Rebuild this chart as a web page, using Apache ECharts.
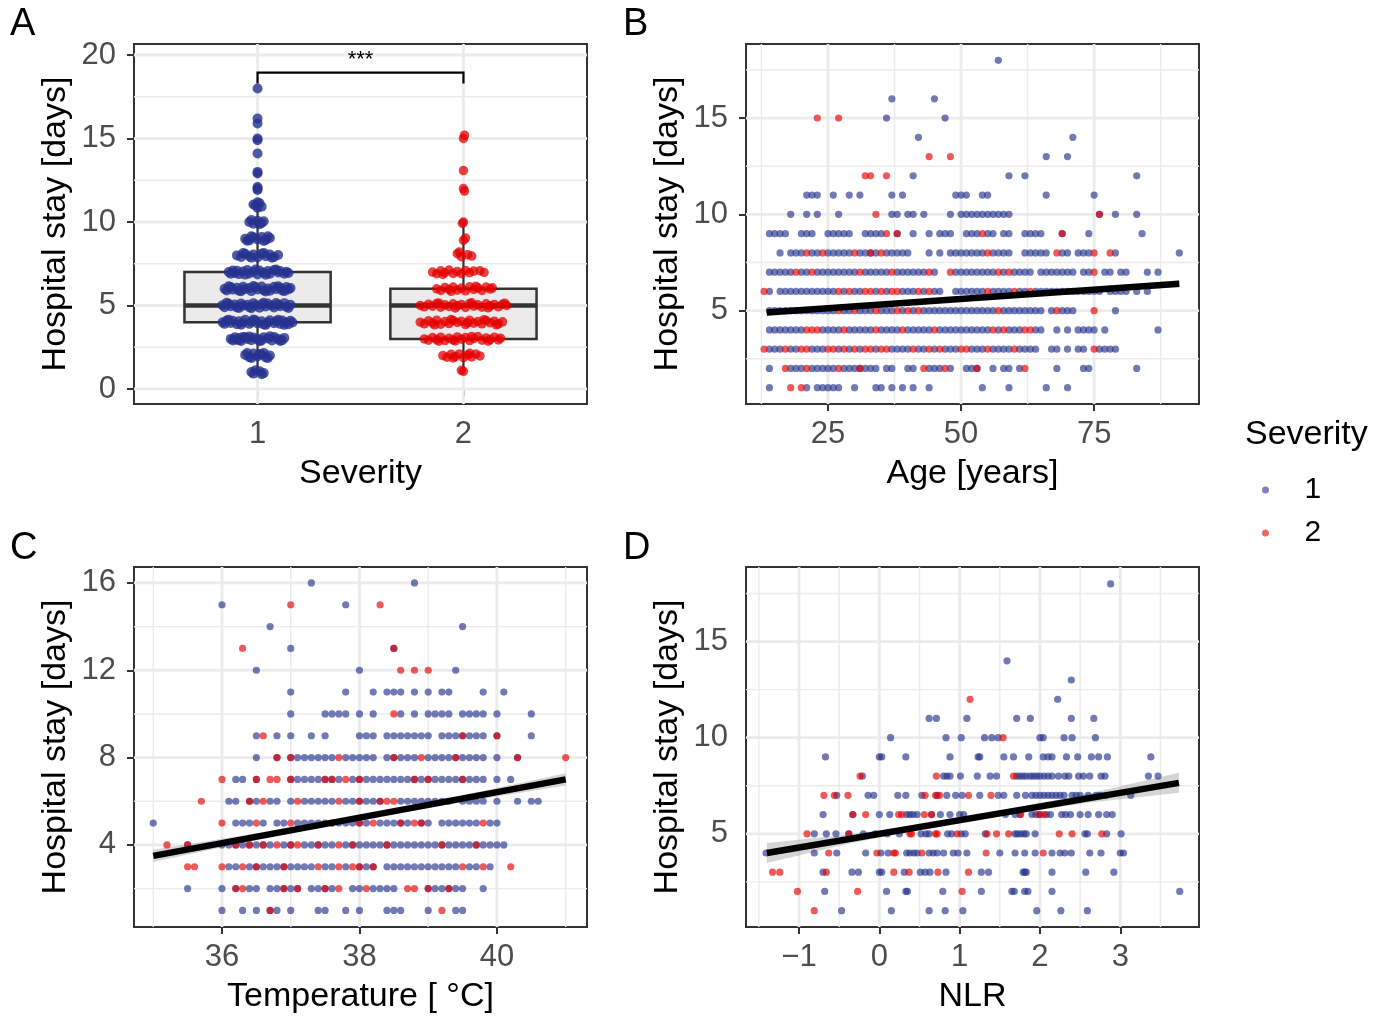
<!DOCTYPE html>
<html>
<head>
<meta charset="utf-8">
<script src="https://cdn.jsdelivr.net/npm/echarts@6/dist/echarts.min.js"></script>
<style>
html, body { margin: 0; padding: 0; background: #fff; }
#chart { width: 1388px; height: 1016px; }
</style>
</head>
<body>
<div id="chart"></div>
<script>
// ---- panel A: box stats [severity, lower whisker, q1, median, q3, upper whisker]
const boxStats = [[1, 1, 4, 5, 7, 11], [2, 1, 3, 5, 6, 10]];
const sevTicks = [1, 2];
const stayTicksA = [0, 5, 10, 15, 20];
const stayMinorA = [2.5, 7.5, 12.5, 17.5];
const bracketA = [[1, 18.3], [1, 18.95], [2, 18.95], [2, 18.3]];

// jittered points (severity position, stay)
const jitterSev1 = [
  [0.98,0.92],[1.01,1.06],[1.03,0.95],[0.99,1.12],[1.02,0.88],[0.97,1.02],
  [0.94,2.04],[0.96,1.9],[0.98,2.12],[1.0,1.94],[1.02,2.06],[1.04,1.88],[1.06,2.0],[0.95,2.15],[1.01,2.1],[1.05,1.85],[0.97,1.86],[1.03,2.16],
  [0.87,3.0],[0.88,2.9],[0.89,3.1],[0.9,2.95],[0.91,3.05],[0.92,2.88],[0.93,3.12],[0.95,3.0],[0.97,2.92],[0.98,3.08],[1.0,3.0],[1.02,2.9],[1.03,3.1],[1.05,3.02],[1.07,2.9],[1.08,3.12],[1.1,3.0],[1.12,2.92],[1.13,3.06],[0.94,3.1],[0.91,2.93],[0.96,3.14],[1.01,2.86],[1.06,3.15],[1.11,2.88],
  [0.83,4.0],[0.84,3.9],[0.85,4.1],[0.87,3.95],[0.88,4.08],[0.9,3.88],[0.91,4.05],[0.93,3.98],[0.94,4.14],[0.96,3.9],[0.97,4.02],[0.99,4.12],[1.0,3.92],[1.02,4.06],[1.03,3.86],[1.05,4.0],[1.06,4.12],[1.08,3.94],[1.09,4.06],[1.11,3.9],[1.12,4.1],[1.14,4.0],[1.15,3.88],[1.16,4.08],[1.17,3.98],[0.86,4.15],[0.92,3.85],[0.98,4.16],[1.04,3.84],[1.1,4.15],[1.13,3.84],
  [0.83,5.02],[0.84,4.9],[0.86,5.1],[0.87,4.96],[0.89,5.06],[0.9,4.88],[0.92,5.12],[0.93,4.98],[0.95,5.04],[0.96,4.9],[0.98,5.14],[0.99,5.0],[1.01,4.86],[1.02,5.08],[1.04,4.94],[1.05,5.12],[1.07,5.0],[1.08,4.88],[1.1,5.06],[1.11,4.96],[1.13,5.14],[1.14,4.92],[1.16,5.04],[0.85,5.16],[0.91,4.85],[0.97,4.84],[1.03,5.16],[1.09,5.15],[1.15,4.85],
  [0.84,6.0],[0.85,5.9],[0.87,6.1],[0.88,5.95],[0.9,6.06],[0.91,5.88],[0.93,6.12],[0.94,5.98],[0.96,6.04],[0.97,5.86],[0.99,6.1],[1.0,5.96],[1.02,6.14],[1.03,5.9],[1.05,6.02],[1.06,5.88],[1.08,6.12],[1.09,5.98],[1.11,6.06],[1.12,5.9],[1.14,6.1],[1.15,5.96],[1.16,6.04],[0.86,6.15],[0.92,5.85],[0.98,6.16],[1.04,5.84],[1.1,6.15],[1.13,5.86],
  [0.86,7.0],[0.87,6.9],[0.88,7.1],[0.89,6.95],[0.9,7.08],[0.91,6.88],[0.93,7.04],[0.95,7.12],[0.96,6.92],[0.98,7.02],[1.0,6.86],[1.01,7.1],[1.03,6.96],[1.05,7.06],[1.06,6.9],[1.08,7.12],[1.1,6.98],[1.11,7.06],[1.13,6.9],[1.14,7.02],[1.15,6.95],[0.94,6.85],[0.99,7.16],[1.04,6.84],[1.09,7.15],
  [0.9,8.0],[0.92,7.9],[0.94,8.1],[0.96,7.95],[0.98,8.05],[1.0,7.88],[1.02,8.1],[1.04,7.95],[1.06,8.05],[1.08,7.9],[1.1,8.02],[0.93,8.14],[0.97,7.86],[1.03,8.15],[1.07,7.86],
  [0.94,9.0],[0.96,8.9],[0.98,9.08],[1.0,8.95],[1.02,9.1],[1.04,8.92],[1.06,9.04],[0.97,9.14],[1.03,8.86],[0.95,8.88],[1.05,9.14],
  [0.96,10.0],[0.98,9.9],[1.0,10.08],[1.02,9.94],[0.97,10.12],[1.01,9.86],[1.03,10.04],
  [0.99,11.0],[1.0,10.85],[1.01,11.12],[0.98,11.05],[1.02,10.92],[1.0,11.18],
  [1.0,12.0],[1.0,12.1],[1.0,11.92],[1.0,13.0],[1.0,12.9],[1.0,14.1],[1.0,14.9],[1.0,15.0],[1.0,15.9],[1.0,16.2],[1.0,18.0]
];
const jitterSev2 = [
  [2.0,1.06],[1.99,1.12],
  [1.9,2.0],[1.92,1.9],[1.94,2.08],[1.96,1.94],[1.98,2.1],[2.0,1.88],[2.02,2.04],[2.04,1.92],[2.06,2.1],[2.08,1.98],[1.95,1.86],[2.03,2.14],
  [1.81,3.0],[1.83,2.92],[1.85,3.08],[1.87,2.96],[1.89,3.1],[1.91,2.9],[1.93,3.04],[1.95,2.94],[1.97,3.12],[1.99,2.98],[2.01,3.08],[2.03,2.9],[2.05,3.02],[2.07,3.14],[2.09,2.92],[2.11,3.06],[2.13,2.96],[2.15,3.1],[2.17,2.94],[2.18,3.04],[1.88,2.86],[1.96,2.88],[2.04,3.14],[2.12,2.86],
  [1.79,4.0],[1.81,3.9],[1.83,4.08],[1.85,3.95],[1.87,4.12],[1.89,3.88],[1.91,4.04],[1.93,3.92],[1.95,4.1],[1.97,3.98],[1.99,4.06],[2.01,3.86],[2.03,4.12],[2.05,3.94],[2.07,4.04],[2.09,3.9],[2.11,4.1],[2.13,3.96],[2.15,4.06],[2.17,3.9],[2.19,4.02],[1.86,3.84],[1.94,4.16],[2.02,3.96],[2.1,4.15],[2.16,3.84],
  [1.79,5.0],[1.81,4.92],[1.83,5.08],[1.85,4.96],[1.87,5.12],[1.89,4.9],[1.91,5.04],[1.93,4.94],[1.95,5.1],[1.97,4.98],[1.99,5.06],[2.01,4.88],[2.03,5.12],[2.05,4.96],[2.07,5.04],[2.09,4.9],[2.11,5.1],[2.13,4.98],[2.15,5.06],[2.17,4.92],[2.19,5.08],[2.21,5.0],[1.88,5.15],[1.96,4.85],[2.04,5.16],[2.12,4.86],[2.2,5.14],
  [1.87,6.0],[1.89,5.9],[1.91,6.08],[1.93,5.96],[1.95,6.1],[1.97,5.92],[1.99,6.04],[2.01,5.88],[2.03,6.12],[2.05,5.96],[2.07,6.06],[2.09,5.9],[2.11,6.1],[2.13,5.98],[2.14,6.06],[1.94,5.85],[2.06,6.15],
  [1.85,7.0],[1.87,6.9],[1.89,7.08],[1.91,6.96],[1.93,7.12],[1.95,6.92],[1.97,7.04],[1.99,6.9],[2.01,7.1],[2.03,6.96],[2.05,7.06],[2.08,7.08],[2.1,6.98],[1.9,6.86],
  [1.97,8.1],[1.99,7.92],[2.02,8.04],[2.04,7.96],[1.98,8.2],
  [2.0,8.9],[2.01,9.04],
  [2.0,10.0],[1.995,9.92],
  [2.0,12.0],[2.005,11.85],
  [2.0,13.08],
  [2.0,15.0],[2.005,15.2]
];

// ---- panel B: rows of [stay, ages]
const ageSev1 = [
  [18, [57]],
  [16, [37, 45]],
  [15, [36, 47]],
  [14, [42, 71]],
  [13, [66, 70]],
  [12, [41, 59, 62, 83]],
  [11, [21, 22, 23, 26, 29, 31, 37, 39, 49, 50, 51, 54, 55, 66, 75]],
  [10, [18, 21, 23, 27, 37, 38, 40, 41, 43, 48, 50, 51, 52, 53, 54, 55, 56, 57, 58, 59, 76, 79, 83]],
  [9, [14, 15, 16, 17, 20, 21, 22, 25, 26, 27, 28, 29, 32, 33, 34, 35, 38, 41, 44, 46, 47, 48, 51, 52, 53, 55, 56, 58, 59, 62, 63, 64, 65, 69, 74, 84]],
  [8, [16, 18, 19, 20, 22, 23, 25, 26, 27, 28, 29, 31, 32, 33, 34, 36, 37, 38, 39, 40, 44, 46, 48, 49, 50, 51, 52, 53, 54, 56, 57, 58, 59, 62, 63, 64, 65, 66, 69, 70, 72, 73, 74, 79, 91]],
  [7, [14, 15, 16, 17, 18, 20, 21, 23, 24, 25, 26, 27, 28, 29, 30, 32, 33, 34, 35, 36, 38, 39, 40, 41, 42, 43, 45, 49, 50, 51, 52, 53, 54, 55, 56, 58, 60, 61, 62, 63, 65, 66, 67, 68, 69, 70, 71, 73, 74, 77, 78, 80, 81, 85, 87]],
  [6, [14, 16, 17, 18, 19, 20, 21, 22, 23, 24, 25, 26, 28, 30, 31, 34, 36, 39, 40, 41, 43, 45, 46, 49, 50, 51, 52, 53, 54, 56, 57, 58, 59, 61, 62, 64, 65, 66, 67, 68, 69, 70, 71, 72, 73, 74, 75, 76, 78, 79, 80, 81, 83, 85]],
  [5, [14, 15, 16, 17, 18, 19, 20, 21, 22, 23, 24, 25, 26, 28, 29, 31, 32, 33, 35, 36, 37, 39, 41, 43, 44, 45, 46, 47, 48, 49, 50, 51, 52, 53, 54, 55, 56, 58, 59, 60, 61, 62, 63, 64, 65, 67, 69, 70, 71, 79]],
  [4, [14, 15, 16, 17, 18, 19, 20, 24, 25, 26, 27, 29, 30, 31, 32, 33, 35, 36, 37, 38, 40, 41, 42, 43, 44, 46, 47, 48, 49, 50, 51, 52, 53, 54, 55, 57, 59, 60, 61, 64, 65, 68, 70, 72, 73, 74, 75, 77, 87]],
  [3, [14, 15, 16, 18, 19, 22, 23, 24, 27, 29, 31, 34, 37, 38, 39, 40, 42, 43, 45, 47, 48, 49, 52, 53, 54, 56, 57, 58, 59, 61, 62, 63, 64, 67, 68, 70, 72, 73, 76, 77, 78, 79]],
  [2, [14, 18, 19, 20, 22, 23, 24, 25, 26, 28, 29, 30, 31, 32, 33, 34, 36, 37, 40, 41, 44, 45, 46, 48, 51, 52, 53, 56, 58, 59, 61, 68, 73, 74, 83]],
  [1, [14, 21, 23, 24, 25, 26, 27, 30, 34, 35, 37, 39, 41, 44, 54, 59, 66, 70]]
];
const ageSev2 = [
  [15, [23, 27]],
  [13, [44, 48]],
  [12, [32, 33, 36]],
  [10, [34, 76]],
  [9, [36, 38, 54, 69]],
  [8, [21, 24, 30, 33, 35, 55, 68, 75, 78]],
  [7, [19, 22, 31, 37, 44, 48, 57, 59, 75]],
  [6, [13, 27, 29, 32, 33, 35, 37, 38, 42, 44, 55, 60, 63]],
  [5, [27, 30, 34, 38, 40, 42, 57, 68, 75]],
  [4, [21, 22, 23, 28, 34, 39, 45, 56, 58, 62, 63]],
  [3, [13, 17, 20, 21, 25, 26, 28, 30, 32, 33, 35, 36, 41, 44, 46, 50, 51, 55, 60, 75]],
  [2, [17, 21, 27, 31, 43, 47, 53, 62]],
  [1, [18, 20]]
];
const ageTicks = [25, 50, 75];
const ageMinor = [12.5, 37.5, 62.5, 87.5];
const stayTicksBD = [5, 10, 15];
const stayMinorBD = [2.5, 7.5, 12.5, 17.5];
const ageFit = [[13.5, 4.9], [91, 6.4]];
const ageBand = [[13.5, 4.72, 5.08], [30, 5.12, 5.36], [50, 5.54, 5.72], [70, 5.87, 6.11], [91, 6.22, 6.58]];

// ---- panel C: rows of [stay, temperatures]
const tempSev1 = [
  [16, [37.3, 38.8]],
  [15, [36.0, 37.8]],
  [14, [36.7, 39.5]],
  [13, [37.0, 38.5]],
  [12, [36.5, 38.0, 39.4]],
  [11, [37.0, 37.8, 38.2, 38.4, 38.5, 38.6, 38.8, 39.0, 39.2, 39.3, 39.8, 40.1]],
  [10, [37.0, 37.5, 37.6, 37.7, 37.8, 38.0, 38.2, 38.6, 38.8, 39.0, 39.1, 39.2, 39.3, 39.5, 39.6, 39.7, 39.8, 40.0, 40.5]],
  [9, [36.5, 36.8, 37.0, 37.3, 37.5, 38.0, 38.1, 38.2, 38.4, 38.5, 38.6, 38.7, 38.8, 38.9, 39.0, 39.2, 39.3, 39.4, 39.5, 39.6, 39.7, 39.8, 40.0, 40.5]],
  [8, [36.5, 36.8, 37.0, 37.1, 37.2, 37.3, 37.4, 37.5, 37.6, 37.8, 37.9, 38.0, 38.1, 38.2, 38.4, 38.5, 38.6, 38.7, 38.8, 39.0, 39.1, 39.2, 39.3, 39.4, 39.5, 39.6, 39.7, 39.8, 40.0, 40.3]],
  [7, [36.2, 36.3, 36.5, 37.0, 37.1, 37.2, 37.3, 37.4, 37.5, 37.6, 37.7, 37.9, 38.0, 38.1, 38.2, 38.3, 38.4, 38.5, 38.6, 38.7, 38.8, 38.9, 39.0, 39.1, 39.2, 39.3, 39.4, 39.5, 39.6, 39.7, 39.8, 40.0, 40.2]],
  [6, [36.1, 36.2, 36.4, 36.5, 36.7, 36.8, 37.0, 37.2, 37.3, 37.4, 37.5, 37.6, 37.8, 37.9, 38.0, 38.1, 38.2, 38.3, 38.6, 38.7, 38.8, 38.9, 39.0, 39.1, 39.2, 39.3, 39.5, 39.6, 39.7, 39.8, 40.0, 40.3, 40.5, 40.6]],
  [5, [35.0, 36.2, 36.3, 36.4, 36.6, 36.8, 36.9, 37.1, 37.2, 37.3, 37.4, 37.5, 37.6, 37.7, 37.8, 37.9, 38.0, 38.1, 38.3, 38.4, 38.5, 38.6, 38.7, 38.9, 39.0, 39.2, 39.3, 39.4, 39.5, 39.6, 39.7, 39.9, 40.0]],
  [4, [35.5, 36.0, 36.1, 36.2, 36.3, 36.4, 36.5, 36.6, 36.7, 36.9, 37.0, 37.2, 37.3, 37.4, 37.5, 37.6, 37.8, 37.9, 38.0, 38.1, 38.2, 38.3, 38.4, 38.5, 38.6, 38.7, 38.8, 38.9, 39.0, 39.1, 39.2, 39.3, 39.4, 39.5, 39.6, 39.7, 39.8, 39.9, 40.0, 40.1]],
  [3, [36.1, 36.2, 36.4, 36.5, 36.6, 36.7, 36.8, 36.9, 37.0, 37.1, 37.2, 37.3, 37.5, 37.6, 37.8, 38.0, 38.1, 38.2, 38.4, 38.5, 38.6, 38.7, 38.8, 38.9, 39.0, 39.1, 39.2, 39.3, 39.4, 39.6, 39.7, 39.9]],
  [2, [35.5, 36.0, 36.2, 36.4, 36.5, 36.7, 36.8, 36.9, 37.0, 37.1, 37.3, 37.4, 37.5, 37.6, 37.9, 38.0, 38.2, 38.3, 38.4, 38.5, 39.0, 39.1, 39.2, 39.3, 39.4, 39.5, 39.8]],
  [1, [36.0, 36.3, 36.5, 36.7, 36.8, 37.0, 37.4, 37.5, 37.8, 38.0, 38.4, 38.5, 38.6, 39.0, 39.4, 39.5]]
];
const tempSev2 = [
  [15, [37.0, 38.3]],
  [13, [36.3, 38.5]],
  [12, [38.6, 38.8, 39.0]],
  [10, [38.5]],
  [9, [36.6, 39.5, 40.0]],
  [8, [36.8, 37.0, 37.7, 38.5, 38.9, 39.4, 40.3, 41.0]],
  [7, [36.0, 36.5, 36.7, 36.8, 37.0, 37.5, 37.6, 37.8, 38.0, 38.8, 39.0, 39.5]],
  [6, [35.7, 36.4, 36.6, 37.1, 37.7, 38.0, 38.3, 38.4, 38.5]],
  [5, [36.0, 36.5, 37.0, 37.6, 38.0, 38.2, 38.6, 38.8, 38.9, 39.8]],
  [4, [35.2, 35.5, 36.2, 36.4, 36.6, 36.8, 37.0, 37.1, 37.4, 37.7, 37.9, 38.4, 39.2, 39.7]],
  [3, [35.5, 35.6, 36.0, 36.3, 36.5, 36.9, 37.4, 37.7, 37.9, 38.0, 38.2, 39.5, 39.8, 40.2]],
  [2, [36.2, 36.3, 36.9, 37.1, 37.5, 37.7, 38.1, 38.7, 38.8, 39.0, 39.3]],
  [1, [36.7, 39.2]]
];
const tempTicks = [36, 38, 40];
const tempMinor = [35, 37, 39, 41];
const stayTicksC = [4, 8, 12, 16];
const stayMinorC = [2, 6, 10, 14];
const tempFit = [[35, 3.5], [41, 7.0]];
const tempBand = [[35, 3.22, 3.78], [36.5, 4.22, 4.53], [38, 5.14, 5.36], [39.5, 5.97, 6.28], [41, 6.72, 7.28]];

// ---- panel D: rows of [stay, NLR]
const nlrSev1 = [
  [18, [2.88]],
  [14, [1.59]],
  [13, [2.39]],
  [12, [2.22]],
  [11, [0.62, 0.71, 1.09, 1.71, 1.88, 2.39, 2.67]],
  [10, [0.14, 0.83, 1.02, 1.31, 1.40, 1.48, 2.0, 2.04, 2.30, 2.40, 2.69]],
  [9, [-0.67, 0.0, 0.03, 0.33, 0.88, 1.23, 1.25, 1.55, 1.67, 1.86, 2.04, 2.10, 2.15, 2.33, 2.47, 2.64, 2.73, 2.84, 3.38]],
  [8, [-0.21, 0.80, 0.84, 0.88, 1.01, 1.22, 1.38, 1.46, 1.71, 1.75, 1.79, 1.83, 1.88, 1.92, 1.96, 2.0, 2.05, 2.1, 2.15, 2.23, 2.31, 2.36, 2.48, 2.54, 2.62, 2.76, 2.81, 3.35, 3.47]],
  [7, [-0.53, -0.14, -0.07, 0.23, 0.33, 0.53, 0.72, 0.84, 0.95, 1.03, 1.25, 1.48, 1.55, 1.71, 1.82, 1.9, 1.95, 2.0, 2.05, 2.1, 2.15, 2.2, 2.25, 2.3, 2.4, 2.45, 2.5, 2.6, 2.7, 2.75, 2.82, 3.13]],
  [6, [-0.70, -0.33, 0.0, 0.13, 0.34, 0.38, 0.42, 0.47, 0.65, 0.76, 0.88, 1.0, 1.05, 1.57, 1.69, 1.75, 1.9, 1.95, 2.0, 2.08, 2.13, 2.27, 2.32, 2.38, 2.5, 2.6, 2.73, 2.83, 2.9]],
  [5, [-0.81, -0.66, -0.54, -0.38, -0.2, -0.05, 0.1, 0.25, 0.52, 0.58, 0.62, 0.85, 0.9, 1.02, 1.07, 1.32, 1.69, 1.72, 1.76, 1.8, 1.83, 1.94, 2.56, 2.59, 2.83, 3.01]],
  [4, [-1.41, -0.81, -0.53, -0.17, 0.02, 0.11, 0.34, 0.38, 0.43, 0.47, 0.62, 0.67, 0.72, 0.80, 0.92, 0.98, 1.09, 1.50, 1.69, 1.81, 1.94, 2.15, 2.25, 2.31, 2.39, 2.62, 2.76, 3.0, 3.04]],
  [3, [-0.70, -0.34, -0.26, 0.0, 0.03, 0.31, 0.51, 0.57, 0.63, 0.83, 1.27, 1.36, 1.79, 1.81, 1.83, 2.15, 2.57, 2.92]],
  [2, [-0.68, 0.09, 0.33, 0.35, 0.79, 1.27, 1.65, 1.68, 1.81, 1.85, 2.15, 3.74]],
  [1, [-0.47, 0.15, 0.62, 0.82, 1.04, 1.96, 2.26, 2.59]]
];
const nlrSev2 = [
  [12, [1.13]],
  [10, [1.54]],
  [8, [-0.24, 0.71, 1.67]],
  [7, [-0.69, -0.56, -0.39, 0.57, 0.70, 0.75, 1.11, 1.39]],
  [6, [-0.33, -0.17, 0.24, 0.28, 0.56, 0.65, 1.76, 1.99, 2.05]],
  [5, [-0.9, -0.38, 0.38, 0.40, 0.70, 0.72, 0.97, 1.34, 1.46, 1.61, 2.24, 2.40, 2.77]],
  [4, [-0.63, -0.03, 0.18, 0.20, 0.53, 1.33, 2.04]],
  [3, [-1.33, -1.24, -0.66, 0.18, 0.37, 0.73, 1.11]],
  [2, [-1.02, -0.27, 1.03]],
  [1, [-0.81]]
];
const nlrTicks = [-1, 0, 1, 2, 3];
const nlrMinor = [-1.5, -0.5, 0.5, 1.5, 2.5, 3.5];
const nlrFit = [[-1.4, 4.0], [3.73, 7.65]];
const nlrBand = [[-1.4, 3.48, 4.52], [-0.4, 4.47, 4.95], [0.6, 5.3, 5.55], [1.1, 5.66, 5.9], [1.6, 5.99, 6.27], [2.6, 6.62, 7.08], [3.73, 7.13, 8.17]];

const sevNames = ['1', '2'];
const sevColors = ['#25328e', '#e60000'];
const FONT = 'Liberation Sans';

// axis ranges [xmin, xmax, ymin, ymax]
const ranges = [
  [0.4, 2.6, -0.9, 20.66],
  [9.6, 94.7, 0.15, 18.85],
  [34.72, 41.31, 0.24, 16.73],
  [-1.66, 3.98, 0.15, 18.88]
];

function rowsToPoints(rows) {
  const pts = [];
  rows.forEach(([stay, xs]) => xs.forEach(x => pts.push([x, stay])));
  return pts;
}

function fmt(v) {
  return v < 0 ? '\u2212' + (-v) : String(v);
}

function makeAxis(gi, min, max, ticks, name, isY) {
  return {
    type: 'value', gridIndex: gi, min: min, max: max,
    name: name, nameLocation: 'middle', nameGap: isY ? 61 : 53,
    nameTextStyle: { fontSize: 34, color: '#000', fontFamily: FONT },
    axisLine: { show: false },
    axisTick: { show: true, length: 7, customValues: ticks, lineStyle: { color: '#333', width: 2 } },
    axisLabel: { customValues: ticks, fontSize: 31, color: '#4d4d4d', fontFamily: FONT, margin: isY ? 18 : 15, formatter: fmt },
    splitLine: { show: false }
  };
}

function gridLineSeries(gi, vals, vertical, width) {
  const r = ranges[gi];
  return {
    type: 'custom', xAxisIndex: gi, yAxisIndex: gi, silent: true, z: 1,
    data: vals.map(v => [v, v]),
    renderItem: (params, api) => {
      const v = api.value(0);
      const a = vertical ? api.coord([v, r[2]]) : api.coord([r[0], v]);
      const b = vertical ? api.coord([v, r[3]]) : api.coord([r[1], v]);
      return { type: 'line', shape: { x1: a[0], y1: a[1], x2: b[0], y2: b[1] }, style: { stroke: '#ebebeb', lineWidth: width } };
    }
  };
}

function scatterSeries(gi, name, pts, size, alpha) {
  const c = sevColors[sevNames.indexOf(name)];
  return {
    type: 'scatter', name: name, xAxisIndex: gi, yAxisIndex: gi, z: 3,
    symbol: 'circle', symbolSize: size, data: pts, large: false,
    itemStyle: { color: c, opacity: alpha, borderWidth: 0 },
    emphasis: { disabled: true }
  };
}

function bandSeries(gi, band) {
  return {
    type: 'custom', xAxisIndex: gi, yAxisIndex: gi, silent: true, z: 2,
    data: [[band[0][0], band[0][1]]],
    renderItem: (params, api) => {
      const upper = band.map(b => api.coord([b[0], b[2]]));
      const lower = band.slice().reverse().map(b => api.coord([b[0], b[1]]));
      return { type: 'polygon', shape: { points: upper.concat(lower) }, style: { fill: 'rgba(150,150,150,0.4)' } };
    }
  };
}

function fitSeries(gi, fit) {
  return {
    type: 'line', xAxisIndex: gi, yAxisIndex: gi, z: 4, data: fit,
    symbol: 'none', silent: true,
    lineStyle: { color: '#000', width: 6.5 }
  };
}

const grids = [
  { left: 134, top: 44, width: 453, height: 360 },
  { left: 746, top: 44, width: 453, height: 360 },
  { left: 134, top: 567, width: 453, height: 360 },
  { left: 746, top: 567, width: 453, height: 360 }
].map(g => Object.assign(g, { show: true, borderColor: '#333', borderWidth: 2, backgroundColor: 'transparent', containLabel: false, outerBoundsMode: 'none' }));

const xAxes = [
  makeAxis(0, ranges[0][0], ranges[0][1], sevTicks, 'Severity', false),
  makeAxis(1, ranges[1][0], ranges[1][1], ageTicks, 'Age [years]', false),
  makeAxis(2, ranges[2][0], ranges[2][1], tempTicks, 'Temperature [ °C]', false),
  makeAxis(3, ranges[3][0], ranges[3][1], nlrTicks, 'NLR', false)
];
const yAxes = [
  makeAxis(0, ranges[0][2], ranges[0][3], stayTicksA, 'Hospital stay [days]', true),
  makeAxis(1, ranges[1][2], ranges[1][3], stayTicksBD, 'Hospital stay [days]', true),
  makeAxis(2, ranges[2][2], ranges[2][3], stayTicksC, 'Hospital stay [days]', true),
  makeAxis(3, ranges[3][2], ranges[3][3], stayTicksBD, 'Hospital stay [days]', true)
];

const MAJ = 2.8, MIN = 1.4;
const PT = 7.2, PA = 0.65;
const series = [
  // panel A
  gridLineSeries(0, stayMinorA, false, MIN),
  gridLineSeries(0, stayTicksA, false, MAJ),
  gridLineSeries(0, sevTicks, true, MAJ),
  {
    type: 'custom', xAxisIndex: 0, yAxisIndex: 0, z: 2, silent: true,
    data: boxStats,
    renderItem: (params, api) => {
      const x = api.value(0), lo = api.value(1), q1 = api.value(2), med = api.value(3), q3 = api.value(4), hi = api.value(5);
      const hw = 0.355, stroke = '#333333';
      const tl = api.coord([x - hw, q3]), br = api.coord([x + hw, q1]);
      const pLo = api.coord([x, lo]), pQ1 = api.coord([x, q1]), pQ3 = api.coord([x, q3]), pHi = api.coord([x, hi]);
      const mL = api.coord([x - hw, med]), mR = api.coord([x + hw, med]);
      return {
        type: 'group', children: [
          { type: 'line', shape: { x1: pLo[0], y1: pLo[1], x2: pQ1[0], y2: pQ1[1] }, style: { stroke: stroke, lineWidth: 2.2 } },
          { type: 'line', shape: { x1: pQ3[0], y1: pQ3[1], x2: pHi[0], y2: pHi[1] }, style: { stroke: stroke, lineWidth: 2.2 } },
          { type: 'rect', shape: { x: tl[0], y: tl[1], width: br[0] - tl[0], height: br[1] - tl[1] }, style: { fill: '#ebebeb', stroke: stroke, lineWidth: 2.5 } },
          { type: 'line', shape: { x1: mL[0], y1: mL[1], x2: mR[0], y2: mR[1] }, style: { stroke: stroke, lineWidth: 4.5 } }
        ]
      };
    }
  },
  scatterSeries(0, '1', jitterSev1, 10, 0.8),
  scatterSeries(0, '2', jitterSev2, 9.5, 0.75),
  {
    type: 'custom', xAxisIndex: 0, yAxisIndex: 0, z: 4, silent: true,
    data: [[1.5, 18.95]],
    renderItem: (params, api) => {
      const pts = bracketA.map(p => api.coord(p));
      const mid = api.coord([api.value(0), api.value(1)]);
      return {
        type: 'group', children: [
          { type: 'polyline', shape: { points: pts }, style: { stroke: '#000', lineWidth: 2.2, fill: null } },
          { type: 'text', x: mid[0], y: mid[1] - 2, style: { text: '***', fontSize: 22, fontFamily: FONT, fill: '#000', align: 'center', verticalAlign: 'bottom' } }
        ]
      };
    }
  },
  // panel B
  gridLineSeries(1, stayMinorBD, false, MIN),
  gridLineSeries(1, stayTicksBD, false, MAJ),
  gridLineSeries(1, ageMinor, true, MIN),
  gridLineSeries(1, ageTicks, true, MAJ),
  bandSeries(1, ageBand),
  scatterSeries(1, '1', rowsToPoints(ageSev1), PT, PA),
  scatterSeries(1, '2', rowsToPoints(ageSev2), PT, PA),
  fitSeries(1, ageFit),
  // panel C
  gridLineSeries(2, stayMinorC, false, MIN),
  gridLineSeries(2, stayTicksC, false, MAJ),
  gridLineSeries(2, tempMinor, true, MIN),
  gridLineSeries(2, tempTicks, true, MAJ),
  bandSeries(2, tempBand),
  scatterSeries(2, '1', rowsToPoints(tempSev1), PT, PA),
  scatterSeries(2, '2', rowsToPoints(tempSev2), PT, PA),
  fitSeries(2, tempFit),
  // panel D
  gridLineSeries(3, stayMinorBD, false, MIN),
  gridLineSeries(3, stayTicksBD, false, MAJ),
  gridLineSeries(3, nlrMinor, true, MIN),
  gridLineSeries(3, nlrTicks, true, MAJ),
  bandSeries(3, nlrBand),
  scatterSeries(3, '1', rowsToPoints(nlrSev1), PT, PA),
  scatterSeries(3, '2', rowsToPoints(nlrSev2), PT, PA),
  fitSeries(3, nlrFit)
];

const panelLetter = (t, x, y) => ({
  type: 'text', x: x, y: y,
  style: { text: t, fontSize: 38, fontFamily: FONT, fill: '#000', verticalAlign: 'middle' }
});

const chart = echarts.init(document.getElementById('chart'));
chart.setOption({
  animation: false,
  backgroundColor: '#fff',
  textStyle: { fontFamily: FONT },
  grid: grids,
  xAxis: xAxes,
  yAxis: yAxes,
  legend: {
    data: sevNames, orient: 'vertical', left: 1257, top: 470,
    itemWidth: 68, itemHeight: 7, itemGap: 13, icon: 'circle',
    itemStyle: { opacity: 0.6 },
    textStyle: { fontSize: 30, color: '#000', fontFamily: FONT, lineHeight: 30 },
    selectedMode: false
  },
  graphic: [
    panelLetter('A', 10, 25),
    panelLetter('B', 623, 25),
    panelLetter('C', 10, 549),
    panelLetter('D', 623, 549),
    { type: 'text', x: 1245, y: 435, style: { text: 'Severity', fontSize: 34, fontFamily: FONT, fill: '#000', verticalAlign: 'middle' } }
  ],
  series: series
});
</script>
</body>
</html>
